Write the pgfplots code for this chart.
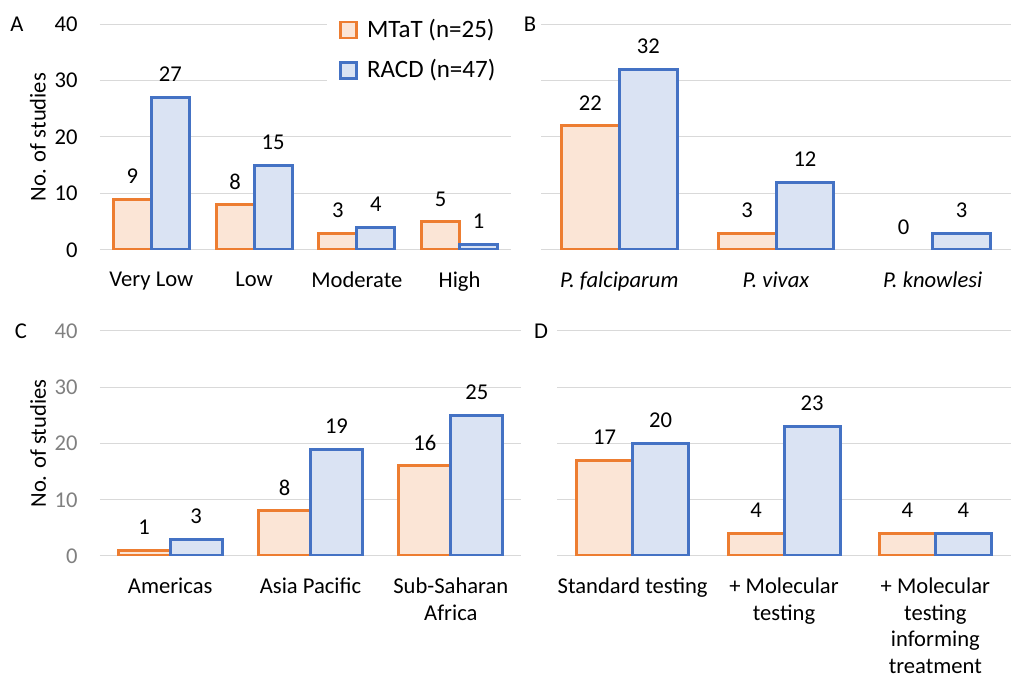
\documentclass[border=0pt]{standalone}
\usepackage{fontspec}
\setmainfont{Carlito}
\usepackage{pgfplots}
\pgfplotsset{compat=1.18}

\definecolor{mtatline}{HTML}{ED7D31}
\definecolor{mtatfill}{HTML}{FBE5D6}
\definecolor{racdline}{HTML}{4472C4}
\definecolor{racdfill}{HTML}{DAE3F3}
\definecolor{gridgrey}{HTML}{D9D9D9}
\definecolor{tickgrey}{HTML}{808080}

\newcommand{\lbl}{\fontsize{11.3}{13.4}\selectfont}

\pgfplotsset{
  panel/.style={
    scale only axis, anchor=south west, ybar,
    ymin=0, ymax=40, ytick={0,10,20,30,40},
    axis line style={draw=none}, major tick length=0pt,
    ymajorgrids, grid style={gridgrey, line width=0.5pt},
    enlarge x limits=false,
    bar width=0.37,
    /pgf/number format/assume math mode=true,
    tick label style={font=\lbl},
    yticklabel style={anchor=east, inner sep=0pt, xshift=-11pt},
    xticklabel style={anchor=north, align=center, inner sep=0pt, yshift=-10.6pt},
    nodes near coords,
    nodes near coords style={font=\lbl, text=black, anchor=south, inner sep=0pt, yshift=7pt},
  },
  mtat/.style={draw=mtatline, fill=mtatfill, line width=1.5pt, bar shift=-0.185,
    legend image code/.code={\draw[draw=mtatline, fill=mtatfill, line width=1.3pt] (0pt,-4pt) rectangle (8pt,4pt); \path (10.5pt,0pt);}},
  racd/.style={draw=racdline, fill=racdfill, line width=1.5pt, bar shift=0.185,
    legend image code/.code={\draw[draw=racdline, fill=racdfill, line width=1.3pt] (0pt,-4pt) rectangle (8pt,4pt); \path (10.5pt,0pt);}},
}

\begin{document}
\begin{tikzpicture}
\useasboundingbox (0,0) rectangle (505.5pt,337pt);

% A: transmission setting
\begin{axis}[panel,
  at={(50pt,212pt)}, width=205.5pt, height=113pt,
  xmin=-0.5, xmax=3.5, xtick={0,1,2,3},
  xticklabels={Very Low, Low, Moderate, High},
  ylabel={No. of studies},
  every axis y label/.style={at={(axis description cs:-0.151,0.5)}, rotate=90, anchor=center, font=\lbl},
  legend style={at={(axis description cs:0.552,1.058)}, anchor=north west, draw=none, fill=white,
    font=\fontsize{12.5}{15}\selectfont, row sep=5.5pt, inner xsep=6pt},
  legend cell align=left,
]
\addplot[mtat] coordinates {(0,9) (1,8) (2,3) (3,5)};
\addlegendentry{MTaT (n=25)}
\addplot[racd] coordinates {(0,27) (1,15) (2,4) (3,1)};
\addlegendentry{RACD (n=47)}
\end{axis}

% B: species
\begin{axis}[panel,
  at={(270.5pt,212pt)}, width=235pt, height=113pt,
  xmin=-0.5, xmax=2.5, xtick={0,1,2},
  xticklabels={\textit{P. falciparum}, \textit{P. vivax}, \textit{P. knowlesi}},
  yticklabels={},
]
\addplot[mtat] coordinates {(0,22) (1,3)};
\addplot[mtat, draw=none, fill=none] coordinates {(2,0)};
\addplot[racd] coordinates {(0,32) (1,12) (2,3)};
\end{axis}

% C: region
\begin{axis}[panel,
  at={(50pt,59pt)}, width=210.5pt, height=112.5pt,
  xmin=-0.5, xmax=2.5, xtick={0,1,2},
  xticklabels={Americas, Asia Pacific, Sub-Saharan\\Africa},
  yticklabel style={text=tickgrey},
  ylabel={No. of studies},
  every axis y label/.style={at={(axis description cs:-0.147,0.5)}, rotate=90, anchor=center, font=\lbl},
]
\addplot[mtat] coordinates {(0,1) (1,8) (2,16)};
\addplot[racd] coordinates {(0,3) (1,19) (2,25)};
\end{axis}

% D: testing
\begin{axis}[panel,
  at={(278.5pt,59pt)}, width=227pt, height=112.5pt,
  xmin=-0.5, xmax=2.5, xtick={0,1,2},
  xticklabels={Standard testing, + Molecular\\testing, + Molecular\\testing\\informing\\treatment},
  yticklabels={},
]
\addplot[mtat] coordinates {(0,17) (1,4) (2,4)};
\addplot[racd] coordinates {(0,20) (1,23) (2,4)};
\end{axis}

\node[font=\lbl] at (8.5pt,325pt) {A};
\node[font=\lbl] at (265pt,325pt) {B};
\node[font=\lbl] at (10.5pt,171.5pt) {C};
\node[font=\lbl] at (270.5pt,171.5pt) {D};
\end{tikzpicture}
\end{document}
